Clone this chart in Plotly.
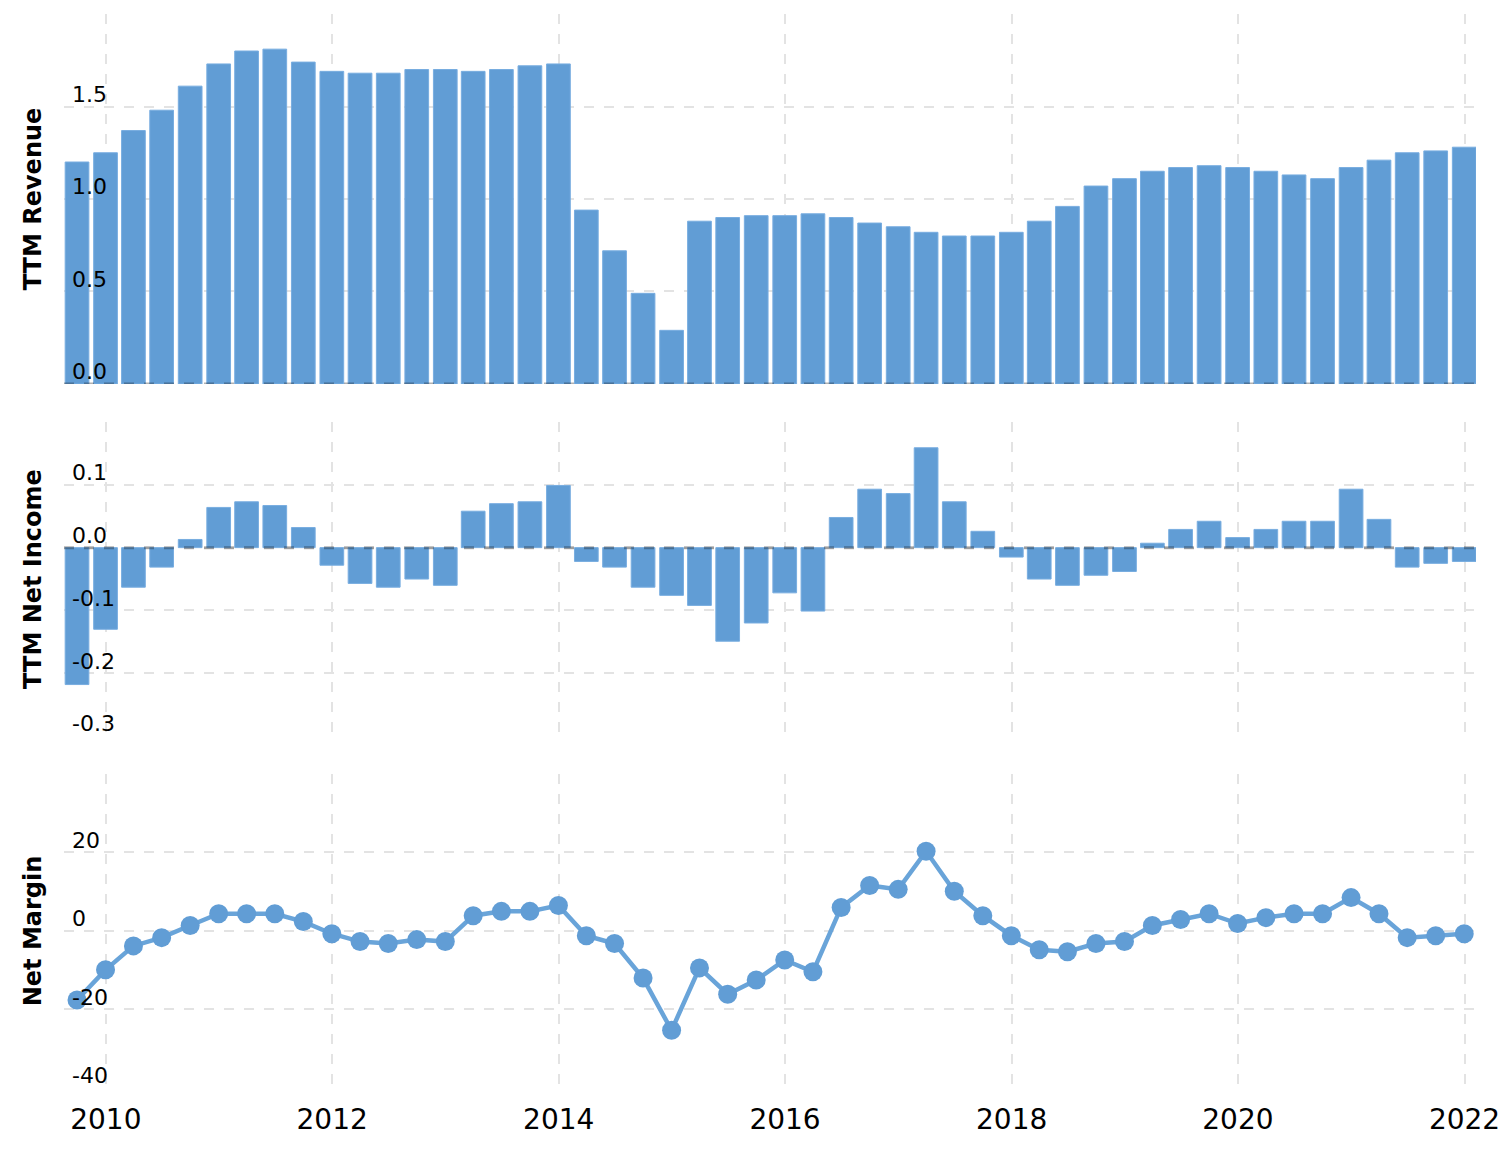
import plotly.graph_objects as go
from plotly.subplots import make_subplots

quarters = [
    "2009-09-30", "2009-12-31",
    "2010-03-31", "2010-06-30", "2010-09-30", "2010-12-31",
    "2011-03-31", "2011-06-30", "2011-09-30", "2011-12-31",
    "2012-03-31", "2012-06-30", "2012-09-30", "2012-12-31",
    "2013-03-31", "2013-06-30", "2013-09-30", "2013-12-31",
    "2014-03-31", "2014-06-30", "2014-09-30", "2014-12-31",
    "2015-03-31", "2015-06-30", "2015-09-30", "2015-12-31",
    "2016-03-31", "2016-06-30", "2016-09-30", "2016-12-31",
    "2017-03-31", "2017-06-30", "2017-09-30", "2017-12-31",
    "2018-03-31", "2018-06-30", "2018-09-30", "2018-12-31",
    "2019-03-31", "2019-06-30", "2019-09-30", "2019-12-31",
    "2020-03-31", "2020-06-30", "2020-09-30", "2020-12-31",
    "2021-03-31", "2021-06-30", "2021-09-30", "2021-12-31",
]

ttm_revenue = [
    1.20, 1.25, 1.37, 1.48, 1.61, 1.73, 1.80, 1.81, 1.74, 1.69,
    1.68, 1.68, 1.70, 1.70, 1.69, 1.70, 1.72, 1.73, 0.94, 0.72,
    0.49, 0.29, 0.88, 0.90, 0.91, 0.91, 0.92, 0.90, 0.87, 0.85,
    0.82, 0.80, 0.80, 0.82, 0.88, 0.96, 1.07, 1.11, 1.15, 1.17,
    1.18, 1.17, 1.15, 1.13, 1.11, 1.17, 1.21, 1.25, 1.26, 1.28,
]

ttm_net_income = [
    -0.218, -0.130, -0.063, -0.031, 0.013, 0.064, 0.073, 0.067, 0.032, -0.028,
    -0.057, -0.063, -0.050, -0.060, 0.058, 0.070, 0.073, 0.099, -0.022, -0.031,
    -0.063, -0.076, -0.092, -0.149, -0.120, -0.072, -0.101, 0.048, 0.093, 0.086,
    0.159, 0.073, 0.026, -0.015, -0.050, -0.060, -0.044, -0.038, 0.007, 0.029,
    0.042, 0.016, 0.029, 0.042, 0.042, 0.093, 0.045, -0.031, -0.025, -0.022,
]

net_margin = [
    -17.6, -9.9, -3.8, -1.7, 1.4, 4.4, 4.4, 4.4, 2.4, -0.7,
    -2.7, -3.2, -2.2, -2.7, 3.9, 5.0, 5.0, 6.5, -1.2, -3.2,
    -12.0, -25.3, -9.4, -16.1, -12.5, -7.4, -10.4, 6.0, 11.6, 10.6,
    20.3, 10.1, 3.9, -1.2, -4.8, -5.3, -3.2, -2.7, 1.4, 2.9,
    4.4, 1.9, 3.4, 4.4, 4.4, 8.5, 4.4, -1.7, -1.2, -0.7,
]

rev_ticks = [0, 0.5, 1.0, 1.5, 2.0]
rev_ticktext = ["0.0", "0.5", "1.0", "1.5", ""]
ni_ticks = [-0.3, -0.2, -0.1, 0.0, 0.1, 0.2]
ni_ticktext = ["-0.3", "-0.2", "-0.1", "0.0", "0.1", ""]
nm_ticks = [-40, -20, 0, 20, 40]
nm_ticktext = ["-40", "-20", "0", "20", ""]

BLUE = "#619dd5"
EDGE = "#78ade0"
GRID = "#e3e3e3"
FONT = "DejaVu Sans, Verdana, sans-serif"

fig = make_subplots(rows=3, cols=1, shared_xaxes=True)

fig.add_trace(go.Bar(x=quarters, y=ttm_revenue, marker=dict(color=BLUE, line=dict(color=EDGE, width=1)),
                     name="TTM Revenue"), row=1, col=1)
fig.add_trace(go.Bar(x=quarters, y=ttm_net_income, marker=dict(color=BLUE, line=dict(color=EDGE, width=1)),
                     name="TTM Net Income"), row=2, col=1)
fig.add_trace(go.Scatter(x=quarters, y=net_margin, mode="lines+markers",
                         line=dict(color="#69a4d9", width=4.5),
                         marker=dict(color=BLUE, size=19),
                         name="Net Margin"), row=3, col=1)

xrange = ["2009-08-19", "2022-02-07"]
for i in (1, 2, 3):
    fig.update_xaxes(
        row=i, col=1, type="date", range=xrange,
        showgrid=True, gridcolor=GRID, gridwidth=2, griddash="10px,10px",
        tick0="2010-01-01", dtick="M24", tickformat="%Y",
        showline=False, zeroline=False, ticks="",
        showticklabels=(i == 3),
        ticklabelstandoff=12,
        tickfont=dict(family=FONT, size=28, color="#000"),
    )

yspecs = [
    (1, "TTM Revenue", [0, 2.0], rev_ticks, rev_ticktext, [0.6555, 1.0]),
    (2, "TTM Net Income", [-0.3, 0.2], ni_ticks, ni_ticktext, [0.3277, 0.6201]),
    (3, "Net Margin", [-40, 40], nm_ticks, nm_ticktext, [0.0, 0.2924]),
]
for row, title, rng, tv, tt, dom in yspecs:
    fig.update_yaxes(
        row=row, col=1, range=rng, domain=dom,
        tickvals=tv, ticktext=tt,
        showgrid=True, gridcolor=GRID, gridwidth=2, griddash="10px,10px",
        zeroline=False, showline=False, ticks="",
        ticklabelposition="inside top",
        ticklabeloverflow="allow",
        ticklabelstandoff=5,
        ticklabelshift=3,
        tickfont=dict(family=FONT, size=22, color="#000"),
        title=dict(text="<b>" + title + "</b>", font=dict(family=FONT, size=24, color="#000"), standoff=23),
    )

# dashed zero reference lines
fig.add_shape(type="line", xref="x domain", yref="y", x0=0, x1=1, y0=0, y1=0,
              line=dict(color="rgba(0,0,0,0.3)", width=3, dash="10px,10px"), layer="above")
fig.add_shape(type="line", xref="x2 domain", yref="y2", x0=0, x1=1, y0=0, y1=0,
              line=dict(color="rgba(0,0,0,0.3)", width=3, dash="10px,10px"), layer="above")
fig.add_shape(type="line", xref="x3 domain", yref="y3", x0=0, x1=1, y0=0, y1=0,
              line=dict(color="#a8a8a8", width=2, dash="10px,10px"), layer="below")

fig.update_layout(
    width=1512, height=1158,
    margin=dict(l=64, r=34, t=14, b=70),
    bargap=0.15,
    showlegend=False,
    plot_bgcolor="white", paper_bgcolor="white",
    font=dict(family=FONT, color="#000"),
)

fig.write_html("out.html")
